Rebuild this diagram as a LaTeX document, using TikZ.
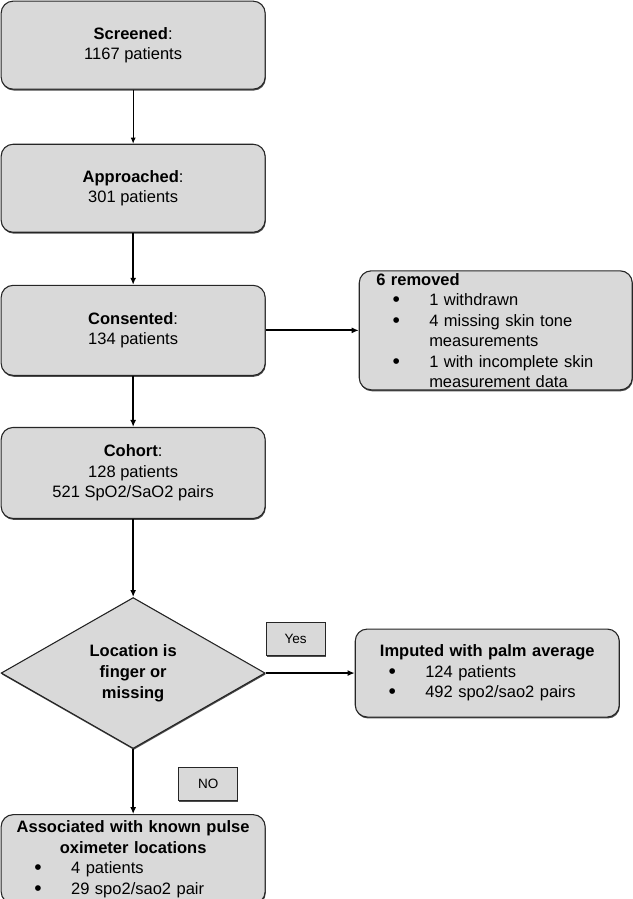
\documentclass[tikz,border=0pt]{standalone}
\usepackage{fontspec}
\setmainfont{Liberation Sans}
\usepackage{tikz}
\usepackage{xcolor}
\usetikzlibrary{arrows.meta,positioning,shapes.geometric,shadows}
\definecolor{boxgray}{RGB}{217,217,217}
\newcommand{\itm}[1]{\hspace*{32pt}\makebox[10pt]{\raisebox{-1pt}{\fontsize{21}{20}\selectfont\textbullet}}\hspace*{28pt}#1}

\begin{document}
\begin{tikzpicture}[
font=\fontsize{16.5}{20.5}\selectfont,
block/.style={draw=black!85, line width=1.1pt, rounded corners=12pt, fill=boxgray, minimum width=264pt, inner sep=0pt, align=center,
  drop shadow={shadow xshift=0.6pt, shadow yshift=-1.4pt, fill=black!70, opacity=1}},
listbox/.style={block, align=left},
decision/.style={draw=black!85, line width=1.1pt, diamond, fill=boxgray, minimum width=264pt, minimum height=151pt, inner sep=0pt, align=center, font=\fontsize{16.5}{21}\selectfont\bfseries,
  drop shadow={shadow xshift=0.6pt, shadow yshift=-1.4pt, fill=black!70, opacity=1}},
tag/.style={draw=black!85, line width=1pt, fill=boxgray, minimum width=59pt, minimum height=33pt, inner sep=0pt, font=\fontsize{13.5}{16}\selectfont,
  drop shadow={shadow xshift=0.6pt, shadow yshift=-1.4pt, fill=black!70, opacity=1}},
arrow/.style={-{Latex[length=7pt,width=6pt]}, line width=2.2pt},
thinarrow/.style={-{Latex[length=6pt,width=5pt]}, line width=1pt}
]
\useasboundingbox (0,0) rectangle (632pt,-899pt);
\node[block, minimum height=88pt, anchor=north west] (scr) at (0.6pt,-0.6pt) {\textbf{Screened}:\\1167 patients};
\node[block, minimum height=88pt, below=54pt of scr] (app) {\textbf{Approached}:\\301 patients};
\node[block, minimum height=90pt, below=52pt of app] (cons) {\textbf{Consented}:\\134 patients};
\node[block, minimum height=91pt, below=51pt of cons] (coh) {\textbf{Cohort}:\\128 patients\\521 SpO2/SaO2 pairs};
\node[decision, below=78pt of coh] (dia) {Location is\\finger or\\missing};
\node[listbox, minimum height=89pt, text width=264pt, below=65pt of dia] (assoc) {\makebox[264pt]{\textbf{Associated with known pulse}}\\\makebox[264pt]{\textbf{oximeter locations}}\\\itm{4 patients}\\\itm{29 spo2/sao2 pair}};

\node[listbox, minimum width=273pt, minimum height=119pt, text width=273pt, right=93pt of cons] (rem) {\hspace*{17pt}\textbf{6 removed}\\\itm{1 withdrawn}\\\itm{4 missing skin tone}\\\hspace*{70pt}measurements\\\itm{1 with incomplete skin}\\\hspace*{70pt}measurement data};
\node[listbox, minimum height=88pt, text width=264pt, right=89pt of dia] (imp) {\makebox[264pt]{\textbf{Imputed with palm average}}\\\itm{124 patients}\\\itm{492 spo2/sao2 pairs}};

\node[tag, anchor=south west] (yes) at ([yshift=17pt]dia.east) {Yes};
\node[tag, anchor=north west] (no) at ([xshift=45pt,yshift=-18pt]dia.south) {NO};

\draw[thinarrow] (scr) -- (app);
\draw[arrow] (app) -- (cons);
\draw[arrow] (cons) -- (coh);
\draw[arrow] (cons) -- (rem);
\draw[arrow] (coh) -- (dia);
\draw[arrow] (dia) -- (imp);
\draw[arrow] (dia) -- (assoc);
\end{tikzpicture}
\end{document}
